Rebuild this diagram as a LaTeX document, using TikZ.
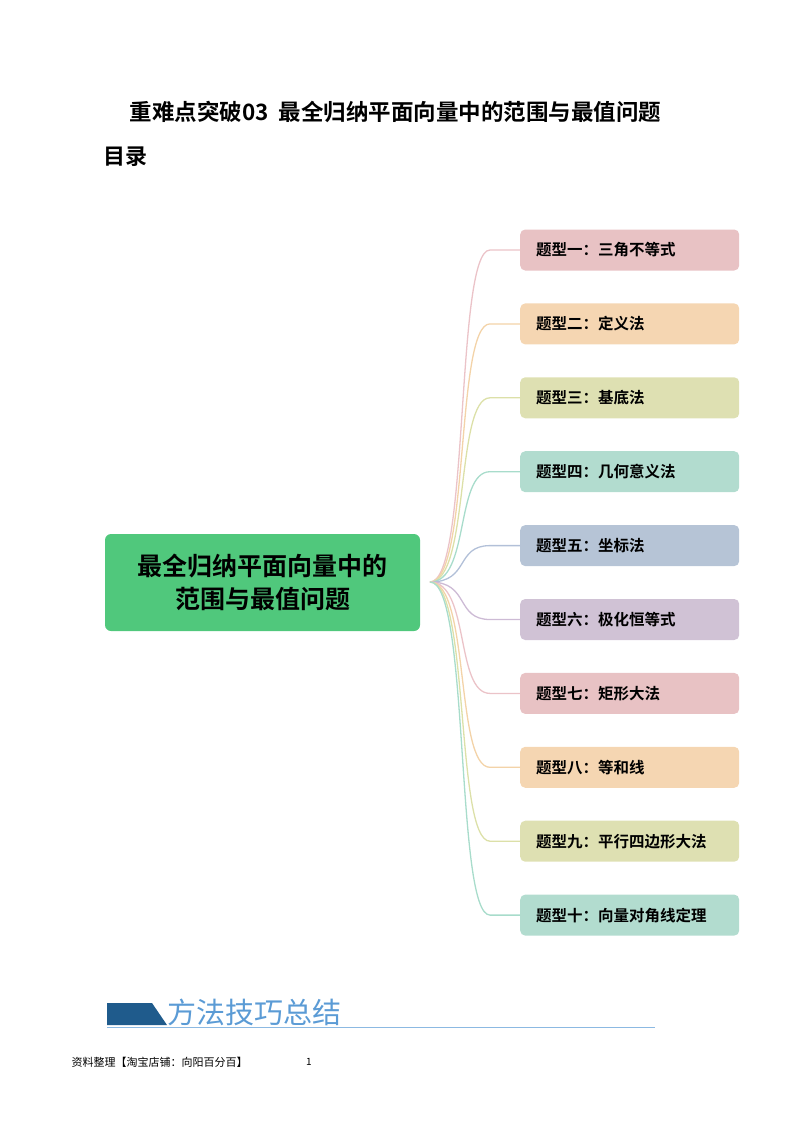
\documentclass[tikz,border=0pt]{standalone}
\usepackage{fontspec}
\newfontfamily\cjk{Noto Sans CJK SC}
\newfontfamily\cjkb{Noto Sans CJK SC Bold}
\definecolor{c1}{HTML}{E8C2C4}\definecolor{l1}{HTML}{EBC3C8}
\definecolor{c2}{HTML}{F5D6B2}\definecolor{l2}{HTML}{F3D3A8}
\definecolor{c3}{HTML}{DEE0B2}\definecolor{l3}{HTML}{DCE0A8}
\definecolor{c4}{HTML}{B2DCCF}\definecolor{l4}{HTML}{A8DCCB}
\definecolor{c5}{HTML}{B6C4D6}\definecolor{l5}{HTML}{B2C0D8}
\definecolor{c6}{HTML}{D0C2D5}\definecolor{l6}{HTML}{CDBBD5}
\definecolor{mainG}{HTML}{50C87C}
\definecolor{bannerB}{HTML}{1F5B8C}
\definecolor{bannerT}{HTML}{5B9BD5}
\tikzset{x=1pt,y=-1pt,
 tbox/.style={rounded corners=5pt,minimum width=219pt,minimum height=41pt,anchor=west,text width=187pt,inner xsep=16pt,font=\cjkb\fontsize{15.5}{18}\selectfont},
 conn/.style={line width=1.3pt}}
\begin{document}
\begin{tikzpicture}
\useasboundingbox (0,0) rectangle (800,1132);
\node[anchor=west,font=\cjkb\fontsize{22.5}{26}\selectfont] (title) at (126,112) {重难点突破03\ \ 最全归纳平面向量中的范围与最值问题};
\node[anchor=west,font=\cjkb\fontsize{22}{26}\selectfont] (toc) at (100,157) {目录};
\node[fill=mainG,rounded corners=6pt,minimum width=315pt,minimum height=97pt,align=center,font=\cjkb\fontsize{25}{33}\selectfont] (main) at (262.5,582.5) {最全归纳平面向量中的\\范围与最值问题};
\coordinate (o) at (430,582);
\foreach \i/\t/\c in {1/题型一：三角不等式/1,2/题型二：定义法/2,3/题型三：基底法/3,4/题型四：几何意义法/4,5/题型五：坐标法/5,6/题型六：极化恒等式/6,7/题型七：矩形大法/1,8/题型八：等和线/2,9/题型九：平行四边形大法/3,10/题型十：向量对角线定理/4}{
  \pgfmathsetmacro{\yy}{250+73.9*(\i-1)}
  \node[tbox,fill=c\c] (b\i) at (520,\yy) {\t};
  \coordinate (k\i) at (490,\yy);
  \draw[conn,draw=l\c] (o) .. controls (470,582) and (455,\yy) .. (k\i) -- (b\i.west);
}
\fill[bannerB] (107,1003) -- (152,1003) -- (167,1025) -- (107,1025) -- cycle;
\node[anchor=west,text=bannerT,font=\cjk\fontsize{29}{32}\selectfont] (bt) at (164,1012) {方法技巧总结};
\draw[bannerT!70,line width=1pt] (107,1027) -- (655,1027);
\node[anchor=west,font=\cjk\fontsize{11}{13}\selectfont] (foot) at (68,1062) {资料整理【淘宝店铺：向阳百分百】};
\node[font=\cjk\fontsize{10}{12}\selectfont] (pg) at (309,1062) {1};
\end{tikzpicture}
\end{document}
